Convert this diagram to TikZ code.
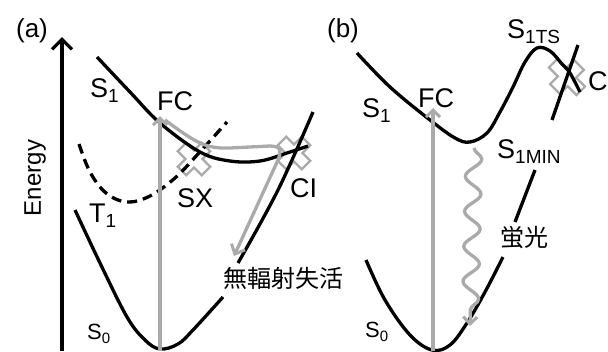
\documentclass[tikz,border=0pt]{standalone}
\usepackage{fontspec}
\setmainfont{Liberation Sans}
\newfontfamily\jpfont{Noto Sans CJK JP}
\usetikzlibrary{arrows.meta,decorations.pathmorphing}
\definecolor{gr}{RGB}{170,170,170}
\newcommand{\lab}[3]{#1\raisebox{-0.22em}{\fontsize{#3}{#3}\selectfont #2}}
\begin{document}
\begin{tikzpicture}[x=1pt,y=-1pt,
  curve/.style={line width=3.3pt},
  gline/.style={draw=gr,line width=3.3pt},
  lbl/.style={inner sep=0pt,anchor=base west,font=\fontsize{27}{27}\selectfont},
  slbl/.style={inner sep=0pt,anchor=base west,font=\fontsize{22}{22}\selectfont},
  jlbl/.style={inner sep=0pt,font=\jpfont\fontsize{24}{24}\selectfont},
  plbl/.style={inner sep=0pt,font=\fontsize{26}{26}\selectfont},
  xmark/.pic={\draw[gr,line width=2.2pt,line join=miter]
     (6,17)--(6,6)--(17,6)--(17,-6)--(6,-6)--(6,-17)--(-6,-17)--(-6,-6)--(-17,-6)--(-17,6)--(-6,6)--(-6,17)--cycle;}
]
\useasboundingbox (0,0) rectangle (608,351);

% ---------- panel (a) ----------
\node[plbl] (pa) at (32,31) {(a)};
\coordinate (axb) at (62,351);
\coordinate (axt) at (62,37);
\draw[curve,-{Straight Barb[length=10pt,width=20pt,line width=3.3pt]}] (axb) -- (axt);
\node[inner sep=0pt,rotate=90,font=\fontsize{24}{24}\selectfont] (energy) at (35,178) {Energy};

\pic[rotate=45] at (194,159) {xmark};
\pic[rotate=45] at (294,153) {xmark};

% S1
\draw[curve] plot[smooth,tension=0.6] coordinates {(97,57) (130,92) (160,123) (200,152) (230,161) (260,161) (287,153) (308,146)};
% T1
\draw[curve,dash pattern=on 10pt off 6pt] plot[smooth,tension=0.6] coordinates {(79,144) (90,172) (106,193) (127,202) (150,196) (175,178) (198,154) (227,122)};
% S0
\draw[curve] plot[smooth,tension=0.6] coordinates {(75,210) (100,263) (127,317) (145,340) (160,349) (178,344) (193,330) (223,297)};
\draw[curve] plot[smooth,tension=0.6] coordinates {(238,263) (278,190) (313,112)};

% FC arrow
\coordinate (amin) at (160,351);
\coordinate (afc) at (160,116);
\draw[gline,-{Straight Barb[length=7pt,width=14pt,line width=3pt]}] (amin) -- (afc);
% relaxation path
\coordinate (gpa) at (165,120);
\coordinate (gpb) at (234,256);
\draw[gline,-{Straight Barb[length=8pt,width=15pt,line width=3pt]}] (gpa) .. controls (195,142) and (205,149) .. (230,148) -- (270,146) .. controls (282,146) and (281,152) .. (278,160) -- (gpb);

\node[lbl] (s1a) at (90,97) {\lab{S}{1}{19}};
\node[lbl] (fca) at (157,110) {FC};
\node[lbl] (t1a) at (89,222) {\lab{T}{1}{19}};
\node[slbl] (s0a) at (87,339) {\lab{S}{0}{15}};
\node[lbl] (sxa) at (177,207) {SX};
\node[lbl] (cia) at (290,197) {CI};
\node[jlbl] (nr) at (283,278) {無輻射失活};

% ---------- panel (b) ----------
\node[plbl] (pb) at (343,31) {(b)};
\pic[rotate=45,yscale=1.15] at (567,77) {xmark};

\draw[curve] plot[smooth,tension=0.6] coordinates {(357,53) (390,87) (430,120) (455,138) (470,142) (487,133) (500,112) (513,87) (525,62) (537,48) (550,51) (562,64) (570,73) (580,92)};
\draw[curve] plot[smooth,tension=0.6] coordinates {(366,260) (385,300) (410,335) (432,350) (450,345) (467,323) (485,292) (503,257)};
\draw[curve] (515,222) -- (535,170);
\draw[curve] (552,120) -- (578,45);

\coordinate (bmin) at (433,351);
\coordinate (bfc) at (433,108);
\draw[gline,-{Straight Barb[length=7pt,width=14pt,line width=3pt]}] (bmin) -- (bfc);

\coordinate (wt) at (474,148);
\coordinate (wb) at (470,326);
\draw[gline,-{Straight Barb[length=7pt,width=14pt,line width=3pt]},decorate,decoration={snake,amplitude=8pt,segment length=35pt,post length=10pt}] (wt) -- (wb);

\node[lbl] (s1b) at (362,117) {\lab{S}{1}{19}};
\node[lbl] (fcb) at (418,107) {FC};
\node[lbl] (s1ts) at (507,38) {\lab{S}{1TS}{19}};
\node[lbl] (cb) at (588,90) {C};
\node[lbl] (s1min) at (497,158) {\lab{S}{1MIN}{19}};
\node[jlbl] (fl) at (524,238) {蛍光};
\node[slbl] (s0b) at (365,337) {\lab{S}{0}{15}};
\end{tikzpicture}
\end{document}
